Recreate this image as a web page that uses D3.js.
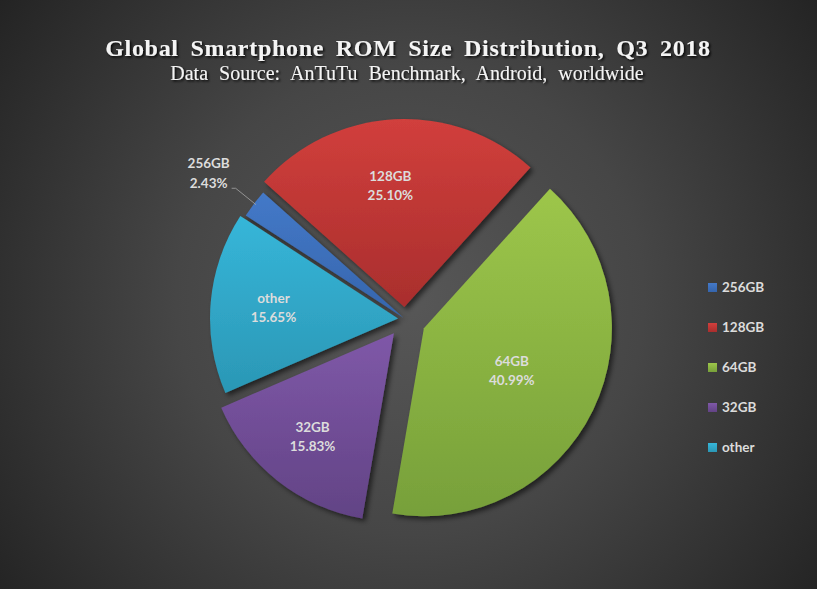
<!DOCTYPE html>
<html>
<head>
<meta charset="utf-8">
<script src="https://cdn.jsdelivr.net/npm/d3@7"></script>
<style>
  html, body { margin: 0; padding: 0; background: #2a2a2a; }
  svg { display: block; }
</style>
</head>
<body>
<div id="chart"></div>
<script>
// chart data
let categories = ["256GB", "128GB", "64GB", "32GB", "other"];
let shares = [2.43, 25.10, 40.99, 15.83, 15.65];
let legendLabels = ["256GB", "128GB", "64GB", "32GB", "other"];
let titleText = "Global Smartphone ROM Size Distribution, Q3 2018";
let subtitleText = "Data Source: AnTuTu Benchmark, Android, worldwide";

// styling per slice (top colour, bottom colour, explode px, label distance as fraction of radius, label angle shift in degrees)
let topColors = ["#4479c8", "#d13f3c", "#9dc64a", "#7f58a8", "#36b6d9"];
let bottomColors = ["#3565ad", "#a92e2d", "#77a03a", "#624385", "#2b97b5"];
let explode = [2, 12, 21, 18, 7];
let labelFrac = [1.29, 0.65, 0.52, 0.70, 0.665];
let labelShift = [-0.8, -3.5, 0, 0, 0];

let width = 817, height = 589;
let cx = 405, cy = 319, radius = 188;

let svg = d3.select("#chart").append("svg")
  .attr("width", width)
  .attr("height", height);

let defs = svg.append("defs");

// background
let bg = defs.append("radialGradient")
  .attr("id", "bg")
  .attr("gradientUnits", "userSpaceOnUse")
  .attr("cx", 410).attr("cy", 300).attr("r", 520);
bg.append("stop").attr("offset", 0).attr("stop-color", "#575757");
bg.append("stop").attr("offset", 0.45).attr("stop-color", "#464646");
bg.append("stop").attr("offset", 1).attr("stop-color", "#222222");

svg.append("rect")
  .attr("width", width).attr("height", height)
  .attr("fill", "url(#bg)");

// shadows
let sh = defs.append("filter").attr("id", "shadow")
  .attr("x", "-20%").attr("y", "-20%").attr("width", "140%").attr("height", "140%");
sh.append("feDropShadow")
  .attr("dx", 3).attr("dy", 3).attr("stdDeviation", 2.5)
  .attr("flood-color", "#000").attr("flood-opacity", 0.55);

let tsh = defs.append("filter").attr("id", "tshadow");
tsh.append("feDropShadow")
  .attr("dx", 1.5).attr("dy", 1.5).attr("stdDeviation", 1)
  .attr("flood-color", "#000").attr("flood-opacity", 0.9);

categories.forEach(function(c, i) {
  let g = defs.append("linearGradient")
    .attr("id", "grad" + i)
    .attr("x1", 0).attr("y1", 0).attr("x2", 0).attr("y2", 1);
  g.append("stop").attr("offset", 0).attr("stop-color", topColors[i]);
  g.append("stop").attr("offset", 1).attr("stop-color", bottomColors[i]);
});

// title
svg.append("text")
  .attr("x", 408).attr("y", 56)
  .attr("text-anchor", "middle")
  .style("font-family", "'Liberation Serif', 'Times New Roman', serif")
  .style("font-weight", "bold")
  .style("font-size", "24px")
  .style("letter-spacing", "0.7px")
  .style("word-spacing", "5px")
  .attr("fill", "#f4f4f4")
  .attr("filter", "url(#tshadow)")
  .text(titleText);

svg.append("text")
  .attr("x", 407).attr("y", 80)
  .attr("text-anchor", "middle")
  .style("font-family", "'Liberation Serif', 'Times New Roman', serif")
  .style("font-size", "20px")
  .style("word-spacing", "6px")
  .attr("fill", "#f4f4f4")
  .attr("filter", "url(#tshadow)")
  .text(subtitleText);

// pie
let startA = -57 * Math.PI / 180;
let pie = d3.pie()
  .sort(null)
  .startAngle(startA)
  .endAngle(startA + 2 * Math.PI)
  .value(d => d);

let arc = d3.arc().innerRadius(0).outerRadius(radius);
let arcs = pie(shares);

function dir(a) { return [Math.sin(a), -Math.cos(a)]; }

let slices = svg.append("g").attr("transform", "translate(" + cx + "," + cy + ")");

slices.selectAll("path")
  .data(arcs)
  .enter().append("path")
  .attr("transform", function(d, i) {
    let m = (d.startAngle + d.endAngle) / 2;
    let v = dir(m);
    return "translate(" + (v[0] * explode[i]) + "," + (v[1] * explode[i]) + ")";
  })
  .attr("d", arc)
  .attr("fill", (d, i) => "url(#grad" + i + ")")
  .attr("filter", "url(#shadow)");

// data labels
let labelFont = "Lato, 'Open Sans', sans-serif";
arcs.forEach(function(d, i) {
  let m = (d.startAngle + d.endAngle) / 2;
  let v = dir(m);
  let ox = v[0] * explode[i], oy = v[1] * explode[i];
  let w = dir(m + labelShift[i] * Math.PI / 180);
  let lx = ox + w[0] * radius * labelFrac[i];
  let ly = oy + w[1] * radius * labelFrac[i];

  let t = slices.append("text")
    .attr("text-anchor", "middle")
    .style("font-family", labelFont)
    .style("font-weight", "bold")
    .style("font-size", "13.5px")
    .attr("fill", "#dcdcdc");
  t.append("tspan").attr("x", lx).attr("y", ly - 9.75).attr("dy", "0.35em").text(categories[i]);
  t.append("tspan").attr("x", lx).attr("y", ly + 9.75).attr("dy", "0.35em").text(shares[i].toFixed(2) + "%");

  // leader line for labels placed outside the slice
  if (labelFrac[i] > 1) {
    let ex = ox + v[0] * radius, ey = oy + v[1] * radius;
    slices.append("polyline")
      .attr("points", [[lx + 23, ly + 15], [lx + 27, ly + 15], [ex + 2, ey + 1]].map(p => p.join(",")).join(" "))
      .attr("fill", "none")
      .attr("stroke", "#a6a6a6")
      .attr("stroke-width", 0.8);
  }
});

// legend
let legendY = d3.scalePoint()
  .domain(legendLabels)
  .range([287.5, 447.5]);

let legend = svg.append("g");
legendLabels.forEach(function(l, i) {
  legend.append("rect")
    .attr("x", 708).attr("y", legendY(l) - 4.5)
    .attr("width", 9).attr("height", 9)
    .attr("fill", "url(#grad" + i + ")");
  legend.append("text")
    .attr("x", 722).attr("y", legendY(l))
    .attr("dy", "0.35em")
    .style("font-family", labelFont)
    .style("font-weight", "bold")
    .style("font-size", "13.5px")
    .attr("fill", "#dcdcdc")
    .text(l);
});
</script>
</body>
</html>
